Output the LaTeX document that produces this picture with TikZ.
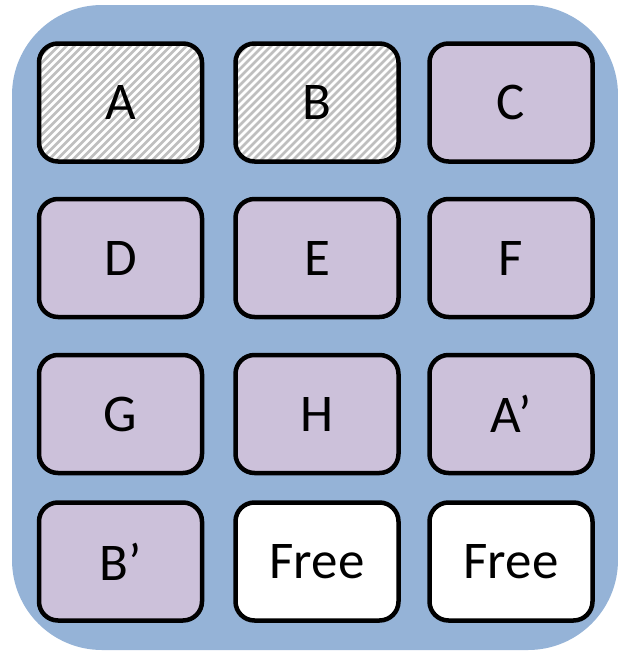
\documentclass[tikz,border=0pt]{standalone}
\usepackage{fontspec}
\setmainfont{Carlito}
\definecolor{bgblue}{HTML}{95B3D7}
\definecolor{lav}{HTML}{CCC1DA}
\definecolor{hatchgray}{HTML}{BFBFBF}
\begin{document}
\begin{tikzpicture}[x=1pt,y=-1pt,
  cell/.style={draw=black, line width=4.5pt, rounded corners=19pt,
    minimum width=163pt, minimum height=118pt, inner sep=0pt,
    font=\fontsize{53}{53}\selectfont, fill=lav},
  freecell/.style={cell, fill=white},
  hatched/.style={cell, fill=white, path picture={
    \foreach \i in {-20,...,40} {
      \draw[hatchgray, line width=2.8pt]
        ([xshift={\i*8pt}]path picture bounding box.south west) -- ++(140pt,140pt);
    }}}]
\useasboundingbox (0,0) rectangle (618,653);
\fill[bgblue, rounded corners=90pt] (12,5) rectangle (618,650);
\node[hatched] (A) at (120.5,102.5) {A};
\node[hatched] (B) at (317,102.5) {B};
\node[cell] (C) at (511,102.5) {C};
\node[cell] (D) at (120.5,258) {D};
\node[cell] (E) at (317,258) {E};
\node[cell] (F) at (511,258) {F};
\node[cell] (G) at (120.5,414) {G};
\node[cell] (H) at (317,414) {H};
\node[cell] (Ap) at (511,414) {A’};
\node[cell] (Bp) at (120.5,561.5) {B’};
\node[freecell] (Fr1) at (317,561.5) {Free};
\node[freecell] (Fr2) at (511,561.5) {Free};
\end{tikzpicture}
\end{document}
